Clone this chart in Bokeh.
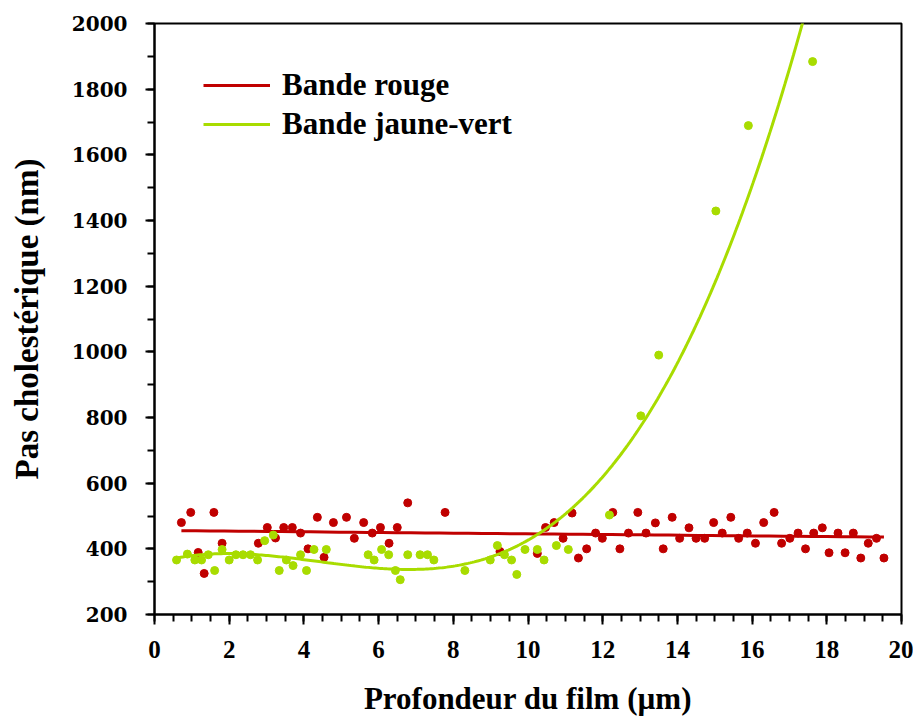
import numpy as np
from bokeh.plotting import figure
from bokeh.models import SingleIntervalTicker, Range1d, Legend, LegendItem
from bokeh.embed import file_html
from bokeh.resources import INLINE

# ---- data ----
red_x = [0.72, 0.97, 1.17, 1.33, 1.59, 1.81, 2.78, 3.02, 3.24, 3.46, 3.69, 3.91,
         4.11, 4.36, 4.54, 4.79, 5.14, 5.35, 5.60, 5.83, 6.05, 6.28, 6.50, 6.78,
         7.78, 9.25, 10.25, 10.47, 10.70, 10.94, 11.18, 11.35, 11.57, 11.81, 11.99,
         12.27, 12.46, 12.69, 12.94, 13.16, 13.41, 13.62, 13.86, 14.06, 14.31, 14.50,
         14.73, 14.97, 15.20, 15.43, 15.64, 15.87, 16.09, 16.31, 16.59, 16.79, 17.01,
         17.23, 17.43, 17.65, 17.88, 18.06, 18.30, 18.49, 18.71, 18.91, 19.11, 19.33,
         19.53]
red_y = [480, 511, 389, 325, 511, 417, 417, 465, 433, 465, 465, 448,
         400, 496, 374, 480, 496, 432, 480, 448, 465, 417, 465, 540,
         511, 392, 386, 465, 480, 432, 509, 372, 400, 448, 432,
         511, 400, 448, 511, 448, 479, 400, 496, 432, 464, 432,
         432, 480, 448, 496, 432, 448, 417, 480, 511, 417, 432,
         448, 400, 448, 464, 388, 448, 388, 448, 372, 417, 432,
         372]

green_x = [0.59, 0.88, 1.08, 1.26, 1.44, 1.61, 1.81, 2.00, 2.18, 2.37, 2.57, 2.76,
           2.95, 3.18, 3.34, 3.53, 3.71, 3.91, 4.07, 4.27, 4.60, 5.72, 5.88, 6.08,
           6.27, 6.45, 6.58, 6.78, 7.11, 7.31, 7.48, 8.31, 8.99, 9.18, 9.37, 9.56,
           9.70, 9.92, 10.25, 10.43, 10.76, 11.08, 12.18, 13.02, 13.50, 15.03, 15.90,
           17.62]
green_y = [366, 384, 366, 366, 382, 334, 398, 366, 382, 382, 382, 366,
           425, 442, 334, 366, 349, 382, 334, 398, 398, 382, 366, 398,
           382, 334, 306, 382, 382, 382, 366, 334, 366, 410, 382, 366,
           322, 398, 398, 366, 410, 398, 503, 805, 990, 1429, 1689,
           1884]

series_names = ["Bande rouge", "Bande jaune-vert"]
x_title = "Profondeur du film (µm)"
y_title = "Pas cholestérique (nm)"

RED = "#C00000"
GREEN = "#A8DC00"
FONT = "Liberation Serif"

# trend lines (least-squares, as in the original: linear and cubic)
rc = np.polyfit(red_x, red_y, 1)
rfx = np.linspace(min(red_x), max(red_x), 50)
rfy = np.polyval(rc, rfx)
gc = np.polyfit(green_x, green_y, 3)
gfx = np.linspace(min(green_x), max(green_x), 300)
gfy = np.polyval(gc, gfx)

p = figure(frame_width=747, frame_height=591, output_backend="svg", toolbar_location=None,
           x_range=Range1d(0, 20), y_range=Range1d(200, 2000),
           min_border_left=154, min_border_top=23, min_border_right=12, min_border_bottom=104)
p.background_fill_color = "white"
p.border_fill_color = "white"
p.outline_line_color = "black"
p.outline_line_width = 2
p.xgrid.visible = False
p.ygrid.visible = False

p.scatter(red_x, red_y, size=8, fill_color=RED, line_color=RED)
r1 = p.line(rfx, rfy, line_color=RED, line_width=3)
p.scatter(green_x, green_y, size=8, fill_color=GREEN, line_color=GREEN)
r2 = p.line(gfx, gfy, line_color=GREEN, line_width=3)

p.xaxis.ticker = SingleIntervalTicker(interval=2, num_minor_ticks=4)
p.yaxis.ticker = SingleIntervalTicker(interval=200, num_minor_ticks=2)

for ax in (p.xaxis[0], p.yaxis[0]):
    ax.axis_line_width = 2
    ax.major_tick_line_width = 2
    ax.minor_tick_line_width = 2
    ax.major_tick_in = 0
    ax.minor_tick_in = 0
    ax.major_label_text_font = FONT
    ax.major_label_text_font_style = "bold"
    ax.major_label_text_color = "black"
    ax.axis_label_text_font = FONT
    ax.axis_label_text_font_style = "bold"
    ax.axis_label_text_color = "black"

p.xaxis.axis_label_text_font_size = "31px"
p.yaxis.axis_label_text_font_size = "33px"
p.xaxis.major_tick_out = 10
p.xaxis.minor_tick_out = 7
p.yaxis.major_tick_out = 9
p.yaxis.minor_tick_out = 7
p.xaxis.major_label_text_font_size = "25px"
p.yaxis.major_label_text_font = "DejaVu Serif"
p.yaxis.major_label_text_font_size = "20px"
p.xaxis.major_label_standoff = 16
p.yaxis.major_label_standoff = 18
p.xaxis.axis_label = x_title
p.yaxis.axis_label = y_title
p.xaxis.axis_label_standoff = 20
p.yaxis.axis_label_standoff = 24

legend = Legend(items=[LegendItem(label=series_names[0], renderers=[r1]),
                       LegendItem(label=series_names[1], renderers=[r2])],
                location=(49, 472))
legend.label_text_font = FONT
legend.label_text_font_style = "bold"
legend.label_text_color = "black"
legend.label_text_font_size = "31px"
legend.glyph_width = 67
legend.glyph_height = 26
legend.label_height = 26
legend.label_standoff = 12
legend.spacing = 3
legend.padding = 0
legend.margin = 0
legend.border_line_color = None
legend.background_fill_alpha = 0
p.add_layout(legend)

open("out.html", "w").write(file_html(p, INLINE))
